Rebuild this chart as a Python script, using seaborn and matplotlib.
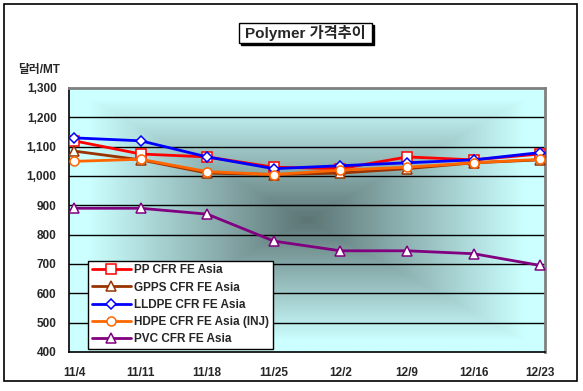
import numpy as np
import pandas as pd
import matplotlib
matplotlib.use("Agg")
import matplotlib.pyplot as plt
import seaborn as sns
from matplotlib.colors import LinearSegmentedColormap
from matplotlib.patches import Rectangle

dates = ['11/4', '11/11', '11/18', '11/25', '12/2', '12/9', '12/16', '12/23']
pp = [1120, 1075, 1065, 1030, 1025, 1065, 1055, 1075]
gpps = [1085, 1055, 1010, 1005, 1010, 1025, 1045, 1055]
lldpe = [1130, 1120, 1065, 1025, 1035, 1045, 1055, 1080]
hdpe = [1050, 1057, 1015, 1005, 1020, 1030, 1045, 1057]
pvc = [890, 890, 870, 778, 745, 745, 735, 695]
series_names = ['PP CFR FE Asia', 'GPPS CFR FE Asia', 'LLDPE CFR FE Asia',
                'HDPE CFR FE Asia (INJ)', 'PVC CFR FE Asia']
y_ticks = [400, 500, 600, 700, 800, 900, 1000, 1100, 1200, 1300]

colors = ['#ff0000', '#993300', '#0000ff', '#ff6600', '#800080']
markers = ['s', '^', 'D', 'o', '^']
msizes = [6.5, 7, 5.5, 6.5, 7.5]

df = pd.DataFrame({'date': dates, 'pos': range(len(dates)),
                   series_names[0]: pp, series_names[1]: gpps,
                   series_names[2]: lldpe, series_names[3]: hdpe,
                   series_names[4]: pvc})
long_df = df.melt(id_vars=['date', 'pos'], var_name='series', value_name='price')

sns.set_style('white')
plt.rcParams['font.family'] = ['Liberation Sans', 'Noto Sans CJK KR']
plt.rcParams['font.weight'] = 'bold'

fig = plt.figure(figsize=(5.83, 3.91), dpi=100)
ax = fig.add_axes([69 / 583, 1 - 352 / 391, 476 / 583, 264 / 391])

# rectangular "from centre" gradient background
gx, gy = np.meshgrid(np.linspace(-1, 1, 400), np.linspace(-1, 1, 300))
t = np.clip(np.maximum(np.abs(gx), np.abs(gy)) / 0.92, 0, 1)
cmap = LinearSegmentedColormap.from_list('bg', ['#5c7474', '#ccffff'])
ax.imshow(t, cmap=cmap, extent=[0, 1, 0, 1], transform=ax.transAxes,
          aspect='auto', zorder=0, vmin=0, vmax=1)

for yv in y_ticks[1:-1]:
    ax.axhline(yv, color='black', lw=1, zorder=1)

for name, c, m, ms in zip(series_names, colors, markers, msizes):
    sub = long_df[long_df['series'] == name]
    sns.lineplot(data=sub, x='pos', y='price', ax=ax, color=c, lw=2,
                 marker=m, markersize=ms, markerfacecolor='white',
                 markeredgecolor=c, markeredgewidth=1.1, label=name, zorder=3)

ax.set_xlim(-0.075, 7.07)
ax.set_ylim(400, 1300)
ax.set_xticks(range(len(dates)))
ax.set_xticklabels(dates, fontsize=8.5, fontweight='bold')
ax.set_yticks(y_ticks)
ax.set_yticklabels([f'{v:,}' for v in y_ticks], fontsize=8.5, fontweight='bold')
ax.tick_params(axis='x', direction='in', length=3, pad=11, color='black')
ax.tick_params(axis='y', length=0, pad=9)
ax.set_xlabel('')
ax.set_ylabel('')
for side in ['left', 'bottom']:
    ax.spines[side].set_color('black')
    ax.spines[side].set_linewidth(1.2)
for side in ['top', 'right']:
    ax.spines[side].set_color('#808080')
    ax.spines[side].set_linewidth(2)
    ax.spines[side].set_visible(True)

leg = ax.legend(loc='lower left', bbox_to_anchor=(19 / 476, 3 / 264), fontsize=8.5,
                frameon=True, fancybox=False, framealpha=1, edgecolor='black',
                borderpad=0.3, labelspacing=0.45, handlelength=3.3,
                handletextpad=0.3, borderaxespad=0)
leg.get_frame().set_linewidth(1)
for txt in leg.get_texts():
    txt.set_fontweight('bold')

fig.text(18 / 583, 1 - 70 / 391, '달러/MT', fontsize=8.5, fontweight='bold',
         va='center', ha='left')

# title box with shadow
fig.patches.append(Rectangle((241 / 583, 1 - 45 / 391), 133 / 583, 20 / 391,
                             transform=fig.transFigure, facecolor='black',
                             edgecolor='black', zorder=1))
fig.patches.append(Rectangle((239 / 583, 1 - 43 / 391), 133 / 583, 20 / 391,
                             transform=fig.transFigure, facecolor='white',
                             edgecolor='black', lw=1, zorder=2))
fig.text(305.5 / 583, 1 - 33 / 391, 'Polymer 가격추이', fontsize=11,
         fontweight='bold', ha='center', va='center', zorder=3)

# outer chart border
fig.patches.append(Rectangle((4 / 583, 1 - 381 / 391), 573 / 583, 377 / 391,
                             transform=fig.transFigure, facecolor='none',
                             edgecolor='black', lw=1.2, zorder=0))

fig.savefig('out.png', dpi=100)
